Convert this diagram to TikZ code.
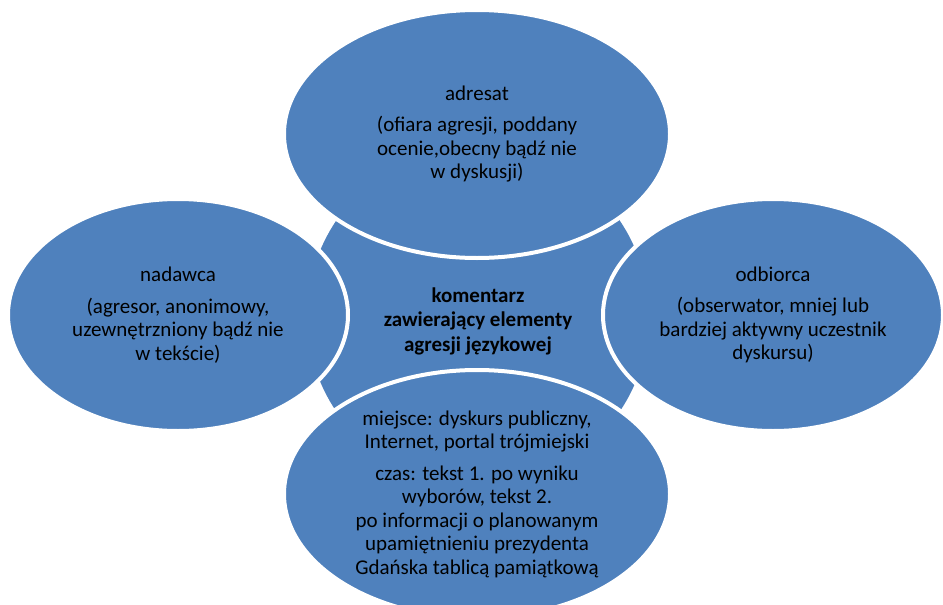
\documentclass[tikz,border=0pt]{standalone}
\usepackage{fontspec}
\setmainfont{Carlito}
\usetikzlibrary{shapes.geometric}
\definecolor{blu}{RGB}{79,129,189}
\begin{document}
\begin{tikzpicture}[x=1pt,y=-1pt,
  blob/.style={draw=white, line width=4pt, fill=blu, inner sep=0pt, align=center,
    font=\fontsize{21}{23.5}\selectfont, text=black},
  side/.style={blob, ellipse, minimum width=340pt, minimum height=232pt},
  vert/.style={blob, ellipse, minimum width=386pt, minimum height=248pt},
  hub/.style={blob, circle, minimum size=346pt},
  hubtext/.style={align=center, inner sep=0pt, text=black, font=\fontsize{21}{24.5}\selectfont\bfseries}]
\useasboundingbox (0,0) rectangle (943,605);
\clip (0,0) rectangle (943,605);
\node[hub] (c) at (478,316) {};
\node[vert] (a) at (477,134) {adresat\\[8pt] (ofiara agresji, poddany\\ ocenie,obecny bądź nie\\ w dyskusji)};
\node[side] (n) at (178,315) {nadawca\\[8pt] (agresor, anonimowy,\\ uzewnętrzniony bądź nie\\ w tekście)};
\node[side] (o) at (773,315) {odbiorca\\[8pt] (obserwator, mniej lub\\ bardziej aktywny uczestnik\\ dyskursu)};
\node[vert] (m) at (477,494) {miejsce: dyskurs publiczny,\\ Internet, portal trójmiejski\\[8pt] czas: tekst 1. po wyniku\\ wyborów, tekst 2.\\ po informacji o planowanym\\ upamiętnieniu prezydenta\\ Gdańska tablicą pamiątkową};
\node[hubtext] (ct) at ([yshift=-5pt]c.center) {komentarz\\ zawierający elementy\\ agresji językowej};
\end{tikzpicture}
\end{document}
